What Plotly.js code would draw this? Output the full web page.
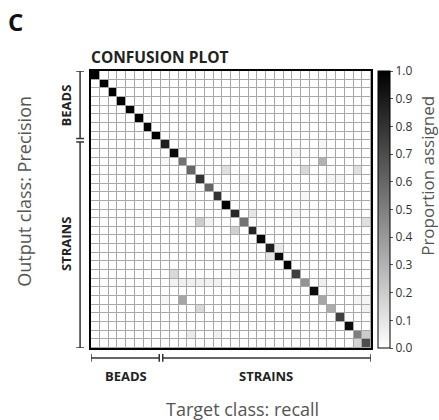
<!DOCTYPE html>
<html>
<head>
<meta charset="utf-8">
<script src="https://cdn.plot.ly/plotly-3.0.1.min.js"></script>
<style>html,body{margin:0;padding:0;background:#fff;}</style>
</head>
<body>
<div id="chart" style="width:439px;height:420px;"></div>
<script>
// 32 classes: 8 beads + 24 strains
const nBeads = 8;
const nStrains = 24;
// diagonal proportions (correct assignment)
const diagValues = [1.0,1.0,1.0,1.0,1.0,1.0,1.0,1.0,
  0.88,0.96,0.55,0.6,0.8,0.6,0.8,1.0,
  0.85,0.55,0.85,0.97,0.88,0.96,1.0,0.75,
  0.42,0.95,0.35,0.33,0.75,0.95,0.5,0.7];
// off-diagonal confusions: row (output), column (target), value
const offRows = [10,10,11,11,11,12,12,12,9,14,14,16,17,17,17,17,18,20,21,23,23,24,24,24,24,24,24,24,26,26,26,26,27,27,27,30,30,30,31,8,25,16];
const offCols = [8,26,15,24,30,17,27,28,23,24,11,18,12,13,27,31,16,21,20,9,16,9,10,11,12,13,14,26,10,8,30,31,12,17,31,11,14,31,30,26,27,23];
const offVals = [0.03,0.3,0.12,0.15,0.12,0.04,0.04,0.04,0.04,0.03,0.03,0.1,0.2,0.05,0.04,0.12,0.18,0.08,0.1,0.15,0.03,0.05,0.06,0.06,0.06,0.05,0.05,0.06,0.35,0.03,0.04,0.04,0.15,0.04,0.05,0.08,0.05,0.2,0.17,0.03,0.03,0.03];
const colorTicks = [0,0.1,0.2,0.3,0.4,0.5,0.6,0.7,0.8,0.9,1.0];

const n = nBeads + nStrains;
const classes = Array.from({length:n},(_,i)=>i);
const z = classes.map(r => classes.map(c => (r===c ? diagValues[r] : 0)));
offRows.forEach((r,i)=>{ z[r][offCols[i]] = offVals[i]; });

const fontFam = '"Open Sans", "Noto Sans", sans-serif';
const trace = {
  type:'heatmap', x:classes, y:classes, z:z,
  zmin:0, zmax:1,
  colorscale:[[0,'#ffffff'],[1,'#000000']],
  xgap:1, ygap:1,
  hoverinfo:'skip',
  colorbar:{
    x:1.025, xanchor:'left', xpad:0, ypad:0,
    y:0.5, yanchor:'middle', len:1, lenmode:'fraction',
    thickness:12, outlinewidth:1, outlinecolor:'#000',
    tickvals:colorTicks, ticktext:colorTicks.map(v=>v.toFixed(1)),
    ticks:'outside', ticklen:3, tickcolor:'#555',
    tickfont:{family:fontFam, size:12, color:'#333'}
  }
};

const bx = -0.039;      // left bracket x (paper)
const by = -0.036;      // bottom bracket y (paper)
const cap = 0.014;
const split1 = nBeads - 0.5 - 0.2, split2 = nBeads - 0.5 + 0.2;
const shapes = [];
function vbr(y0,y1){
  shapes.push({type:'line',xref:'paper',yref:'y',x0:bx,x1:bx,y0:y0,y1:y1,line:{color:'#333',width:1.5}});
  [y0,y1].forEach(y=>shapes.push({type:'line',xref:'paper',yref:'y',x0:bx-cap,x1:bx+cap,y0:y,y1:y,line:{color:'#333',width:1.5}}));
}
function hbr(x0,x1){
  shapes.push({type:'line',xref:'x',yref:'paper',x0:x0,x1:x1,y0:by,y1:by,line:{color:'#333',width:1.5}});
  [x0,x1].forEach(x=>shapes.push({type:'line',xref:'x',yref:'paper',x0:x,x1:x,y0:by-cap,y1:by+cap,line:{color:'#333',width:1.5}}));
}
vbr(-0.5, split1); vbr(split2, n-0.5);
hbr(-0.5, split1); hbr(split2, n-0.5);

const lblFont = {family:fontFam, size:13, color:'#222'};
const titleFont = {family:fontFam, size:18, color:'#555'};
const annotations = [
  {text:'<b>BEADS</b>', xref:'paper', yref:'y', x:-0.09, y:(nBeads-1)/2, xanchor:'center', yanchor:'middle', textangle:-90, showarrow:false, font:lblFont},
  {text:'<b>STRAINS</b>', xref:'paper', yref:'y', x:-0.09, y:nBeads+(nStrains-1)/2, xanchor:'center', yanchor:'middle', textangle:-90, showarrow:false, font:lblFont},
  {text:'<b>BEADS</b>', xref:'x', yref:'paper', x:(nBeads-1)/2, y:-0.101, xanchor:'center', yanchor:'middle', showarrow:false, font:lblFont},
  {text:'<b>STRAINS</b>', xref:'x', yref:'paper', x:nBeads+(nStrains-1)/2, y:-0.101, xanchor:'center', yanchor:'middle', showarrow:false, font:lblFont},
  {text:'<b>C</b>', xref:'paper', yref:'paper', x:-0.269, y:1.18, xanchor:'center', yanchor:'middle', showarrow:false, font:{family:fontFam, size:24, color:'#111'}},
  {text:'Output class: Precision', xref:'paper', yref:'paper', x:-0.240, y:0.567, xanchor:'center', yanchor:'middle', textangle:-90, showarrow:false, font:titleFont},
  {text:'Target class: recall', xref:'paper', yref:'paper', x:0.541, y:-0.22, xanchor:'center', yanchor:'middle', showarrow:false, font:titleFont},
  {text:'Proportion assigned', xref:'paper', yref:'paper', x:1.203, y:0.621, xanchor:'center', yanchor:'middle', textangle:-90, showarrow:false, font:{family:fontFam, size:17, color:'#555'}}
];

const layout = {
  width:439, height:420,
  margin:{l:91, r:68, t:71, b:72, autoexpand:false},
  paper_bgcolor:'#fff', plot_bgcolor:'#a8a8a8',
  title:{text:'<b>CONFUSION PLOT</b>', xref:'paper', x:0, xanchor:'left', yref:'container', y:1-58/420, yanchor:'middle',
         font:{family:fontFam, size:15.5, color:'#222'}},
  xaxis:{range:[-0.5,n-0.5], showticklabels:false, ticks:'', showgrid:false, zeroline:false,
         showline:true, mirror:true, linecolor:'#000', linewidth:2},
  yaxis:{range:[n-0.5,-0.5], showticklabels:false, ticks:'', showgrid:false, zeroline:false,
         showline:true, mirror:true, linecolor:'#000', linewidth:2},
  shapes:shapes, annotations:annotations,
  showlegend:false
};

Plotly.newPlot('chart',[trace],layout,{displayModeBar:false, staticPlot:true});
</script>
</body>
</html>
